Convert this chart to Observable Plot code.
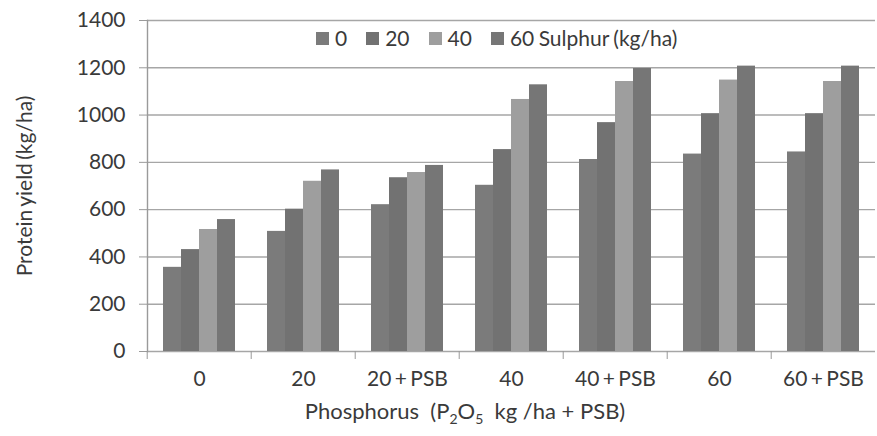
<!DOCTYPE html>
<html>
<head>
<meta charset="utf-8">
<script src="https://cdn.jsdelivr.net/npm/d3@7"></script>
<script src="https://cdn.jsdelivr.net/npm/@observablehq/plot@0.6"></script>
<style>
  html, body { margin: 0; padding: 0; background: #fff; }
  #wrap { position: relative; width: 877px; height: 436px; font-family: Lato, "Open Sans", sans-serif; color: #3a3a3a; }
  #legend { position: absolute; top: 27px; left: 316px; display: flex; gap: 19px; font-size: 21px; line-height: 22px; word-spacing: -1px; }
  #legend .item { display: flex; align-items: center; gap: 6px; }
  #legend .sw { width: 13px; height: 13px; display: inline-block; }
  #xtitle { position: absolute; left: 145px; width: 640px; top: 397px; text-align: center; font-size: 22px; line-height: 28px; white-space: pre; }
  #xtitle sub { font-size: 14px; }
</style>
</head>
<body>
<div id="wrap">
  <div id="chart"></div>
  <div id="legend"></div>
  <div id="xtitle">Phosphorus  (P<sub>2</sub>O<sub>5</sub>  kg /ha + PSB)</div>
</div>
<script>
const categories = ["0", "20", "20 + PSB", "40", "40 + PSB", "60", "60 + PSB"];
const sulphur = ["0", "20", "40", "60"];
const sulphur0 = [356, 508, 621, 703, 812, 835, 844];
const sulphur20 = [431, 602, 735, 854, 968, 1006, 1006];
const sulphur40 = [516, 720, 757, 1066, 1142, 1148, 1142];
const sulphur60 = [558, 768, 787, 1128, 1197, 1207, 1207];
const yTicks = [0, 200, 400, 600, 800, 1000, 1200, 1400];
const legendLabels = ["0", "20", "40", "60 Sulphur (kg/ha)"];
const colors = ["#7b7b7b", "#727272", "#9e9e9e", "#767676"];

const series = [sulphur0, sulphur20, sulphur40, sulphur60];
const data = categories.flatMap((c, i) => sulphur.map((s, j) => ({cat: c, s, v: series[j][i]})));

const W = 877, H = 395, ML = 145, MR = 0;
const step = (W - ML - MR) / categories.length;

const plot = Plot.plot({
  width: W, height: H,
  marginLeft: ML, marginRight: MR, marginTop: 20, marginBottom: 44,
  style: {fontFamily: "Lato, 'Open Sans', sans-serif", fontSize: "21px", color: "#3a3a3a", background: "white", overflow: "visible", wordSpacing: "-2px"},
  fx: {domain: categories, padding: 0, label: null, axis: null},
  x: {domain: sulphur, paddingInner: 0, paddingOuter: 0.815, axis: null},
  y: {domain: [0, 1400], ticks: yTicks},
  color: {domain: sulphur, range: colors},
  marks: [
    Plot.gridY(yTicks, {stroke: "#a6a6a6", strokeOpacity: 1, strokeWidth: 1.4}),
    Plot.barY(data, {fx: "cat", x: "s", y: "v", fill: "s"}),
    Plot.axisY(yTicks, {tickSize: 8, tickPadding: 14, stroke: "#9a9a9a", fill: "#3a3a3a", tickFormat: d => String(d),
      label: "Protein yield (kg/ha)", labelArrow: "none", labelAnchor: "center", labelOffset: 130}),
    Plot.axisFx({anchor: "bottom", tickSize: 0, tickPadding: 20, fill: "#3a3a3a", label: null}),
    Plot.axisFx({anchor: "bottom", tickSize: 8, fill: "none", stroke: "#9a9a9a", dx: -step / 2, label: null}),
    Plot.frame({anchor: "left", facet: "super", stroke: "#9a9a9a", strokeWidth: 1.4})
  ]
});
document.getElementById("chart").appendChild(plot);

const legend = d3.select("#legend");
legendLabels.forEach((t, i) => {
  const it = legend.append("div").attr("class", "item");
  it.append("span").attr("class", "sw").style("background", colors[i]);
  it.append("span").text(t);
});
</script>
</body>
</html>
